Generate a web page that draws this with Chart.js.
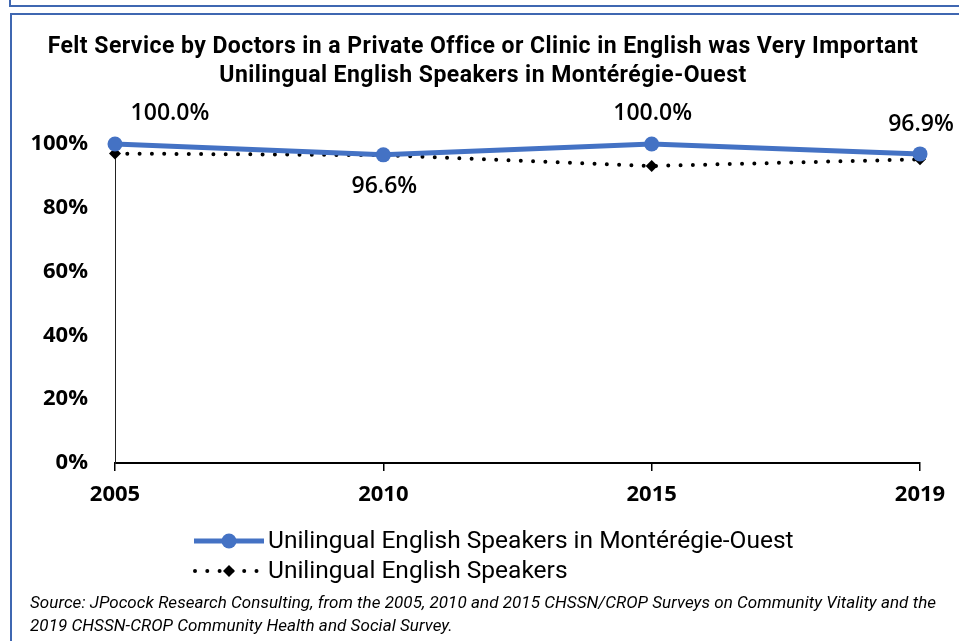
<!DOCTYPE html>
<html>
<head>
<meta charset="utf-8">
<script src="https://cdn.jsdelivr.net/npm/chart.js@4.4.0/dist/chart.umd.min.js"></script>
<style>
  html, body { margin: 0; padding: 0; background: #fff; }
  #wrap { position: relative; width: 959px; height: 641px; overflow: hidden; }
  #chart { position: absolute; left: 0; top: 0; }
  .box { position: absolute; border: 2px solid #3f67b1; width: 1000px; }
  #topbox { left: 9px; top: -10px; height: 13px; }
  #mainbox { left: 10px; top: 13px; height: 1000px; }
  #title {
    position: absolute; left: 0; top: 31px; width: 966px; text-align: center;
    font: bold 23px Roboto, sans-serif; letter-spacing: 0.45px; line-height: 29px; color: #000;
  }
  #source {
    position: absolute; left: 30px; top: 591px;
    font: italic 17px Roboto, sans-serif; line-height: 23px; color: #000;
    white-space: nowrap; letter-spacing: 0.05px;
  }
</style>
</head>
<body>
<div id="wrap">
  <div class="box" id="topbox"></div>
  <div class="box" id="mainbox"></div>
  <canvas id="chart" width="959" height="641"></canvas>
  <div id="title">Felt Service by Doctors in a Private Office or Clinic in English was Very Important<br>Unilingual English Speakers in Montérégie-Ouest</div>
  <div id="source">Source: JPocock Research Consulting, from the 2005, 2010 and 2015 CHSSN/CROP Surveys on Community Vitality and the<br>2019 CHSSN-CROP Community Health and Social Survey.</div>
</div>
<script>
const years = ['2005', '2010', '2015', '2019'];
const monteregieOuest = [100.0, 96.6, 100.0, 96.9];
const allUnilingual = [97.0, 96.5, 93.1, 95.2];
const yTicks = [0, 20, 40, 60, 80, 100];

const BLUE = '#4472C4';

// value labels for the first series; 'above' / 'below' and a sideways nudge
const labelPlugin = {
  id: 'valueLabels',
  afterDatasetsDraw(chart) {
    const ctx = chart.ctx;
    const meta = chart.getDatasetMeta(0);
    const nudgeX = [55, 1, 1, 1];
    const nudgeY = [-31, 32, -31, -29];
    ctx.save();
    ctx.font = '600 23px "Open Sans", sans-serif';
    ctx.fillStyle = '#000';
    ctx.textAlign = 'center';
    ctx.textBaseline = 'middle';
    meta.data.forEach((pt, i) => {
      const v = monteregieOuest[i];
      ctx.fillText(v.toFixed(1) + '%', pt.x + nudgeX[i], pt.y + nudgeY[i]);
    });
    ctx.restore();
  },
};

// legend drawn as line + marker samples stacked vertically
const legendPlugin = {
  id: 'stackLegend',
  afterDraw(chart) {
    const ctx = chart.ctx;
    const rows = [541, 571];
    ctx.save();
    chart.data.datasets.forEach((ds, i) => {
      const y = rows[i];
      ctx.beginPath();
      ctx.strokeStyle = ds.borderColor;
      ctx.lineWidth = ds.borderWidth;
      ctx.lineCap = ds.borderCapStyle || 'butt';
      ctx.setLineDash(ds.borderDash || []);
      ctx.moveTo(i === 0 ? 194 : 195, y);
      ctx.lineTo(264, y);
      ctx.stroke();
      ctx.setLineDash([]);
      ctx.fillStyle = ds.pointBackgroundColor;
      ctx.beginPath();
      if (ds.pointStyle === 'rectRot') {
        const r = ds.pointRadius;
        ctx.moveTo(229, y - r); ctx.lineTo(229 + r, y);
        ctx.lineTo(229, y + r); ctx.lineTo(229 - r, y);
        ctx.closePath();
      } else {
        ctx.arc(229, y, ds.pointRadius, 0, Math.PI * 2);
      }
      ctx.fill();
      ctx.font = '24.5px Roboto, sans-serif';
      ctx.fillStyle = '#000';
      ctx.textAlign = 'left';
      ctx.textBaseline = 'middle';
      ctx.fillText(ds.label, 268, y + 1);
    });
    ctx.restore();
  },
};

new Chart(document.getElementById('chart'), {
  type: 'line',
  data: {
    labels: years,
    datasets: [
      {
        label: 'Unilingual English Speakers in Montérégie-Ouest',
        data: monteregieOuest,
        borderColor: BLUE,
        backgroundColor: BLUE,
        borderWidth: 5,
        pointStyle: 'circle',
        pointRadius: 7.5,
        pointBackgroundColor: BLUE,
        pointBorderWidth: 0,
        tension: 0,
        clip: false,
      },
      {
        label: 'Unilingual English Speakers',
        data: allUnilingual,
        borderColor: '#000',
        backgroundColor: '#000',
        borderWidth: 4,
        borderDash: [0, 12.3],
        borderCapStyle: 'round',
        pointStyle: 'rectRot',
        pointRadius: 6,
        pointBackgroundColor: '#000',
        pointBorderWidth: 0,
        tension: 0,
        clip: false,
      },
    ],
  },
  options: {
    responsive: false,
    animation: false,
    layout: { padding: { top: 144, left: 0, right: 39, bottom: 118 } },
    plugins: {
      legend: { display: false },
      title: { display: false },
      tooltip: { enabled: false },
    },
    scales: {
      x: {
        offset: false,
        afterFit: s => { s.height = 60; },
        border: { display: true, color: '#000', width: 2 },
        grid: { display: true, drawOnChartArea: false, drawTicks: true, tickLength: 8, color: '#000', lineWidth: 1.5 },
        ticks: { color: '#000', padding: 11, maxRotation: 0, font: { family: '"Open Sans", sans-serif', size: 22, weight: 'bold', lineHeight: 1.2 } },
      },
      y: {
        min: 0,
        max: 100,
        afterFit: s => { s.width = 115; },
        afterBuildTicks: s => { s.ticks = yTicks.map(v => ({ value: v })); },
        border: { display: true, color: '#222', width: 1 },
        grid: { display: false, drawTicks: false },
        ticks: { color: '#000', padding: 27, callback: v => v + '%', font: { family: '"Open Sans", sans-serif', size: 22, weight: 'bold' } },
      },
    },
  },
  plugins: [labelPlugin, legendPlugin],
});
</script>
</body>
</html>
